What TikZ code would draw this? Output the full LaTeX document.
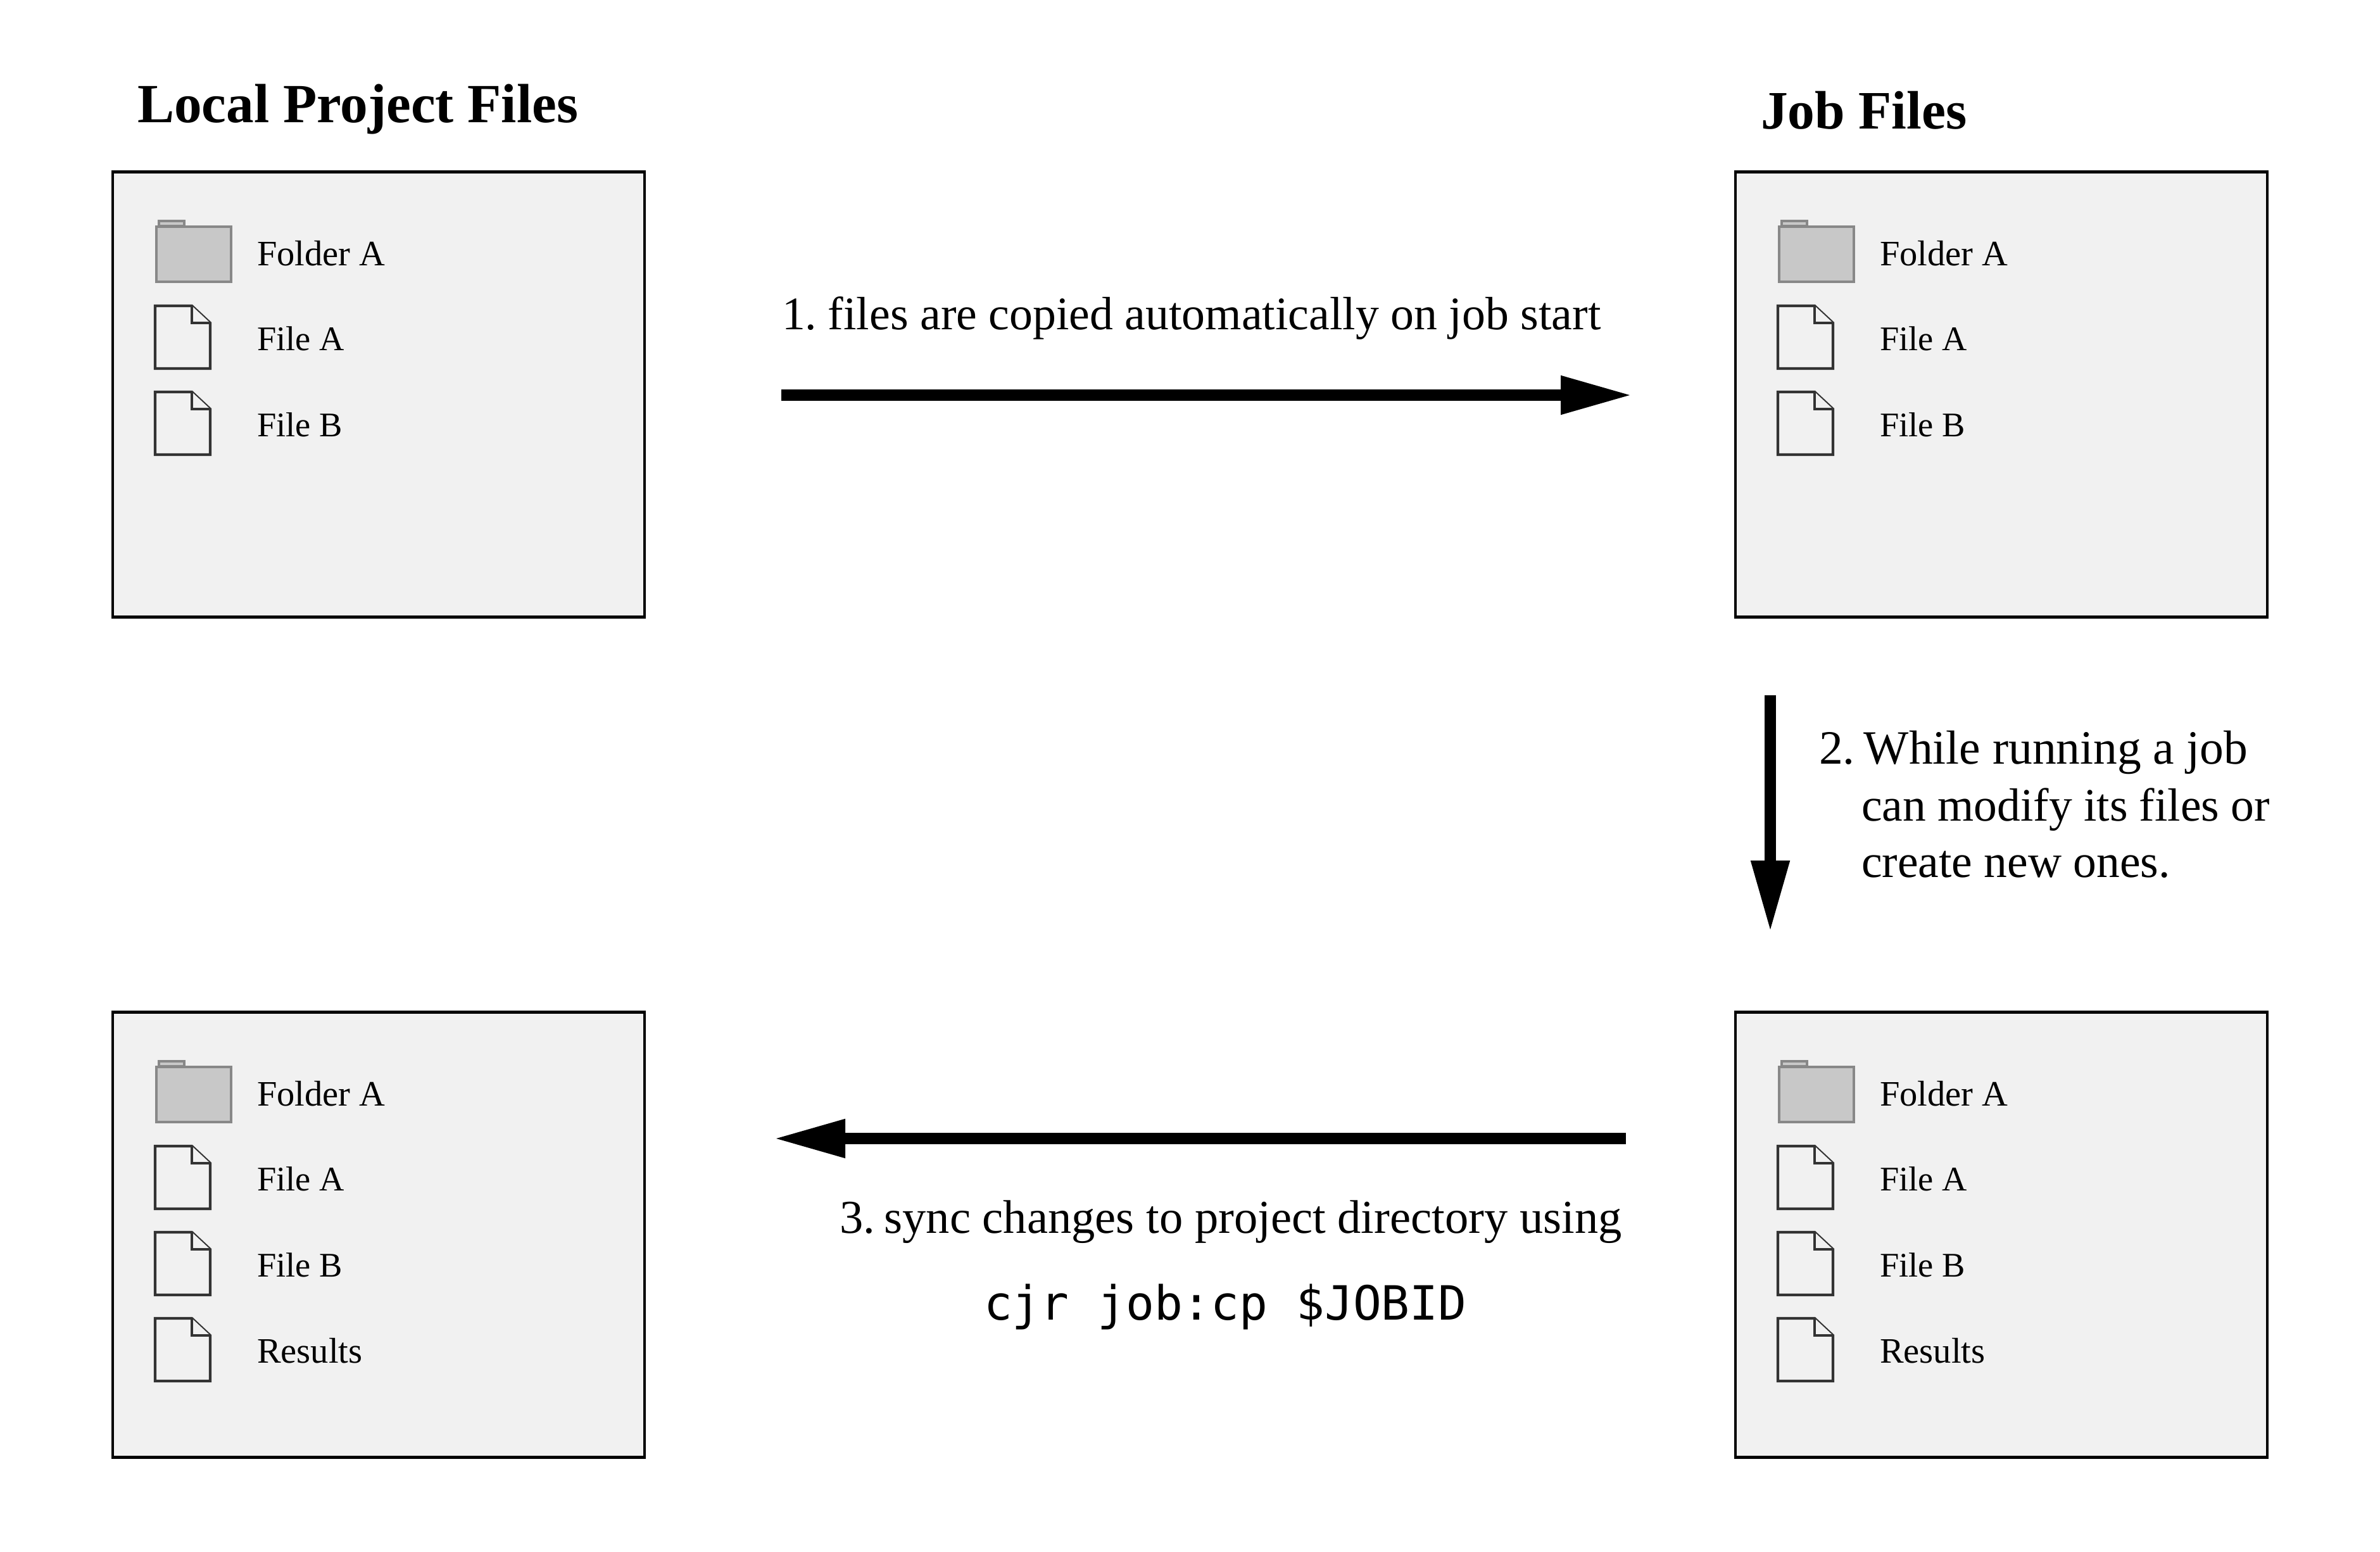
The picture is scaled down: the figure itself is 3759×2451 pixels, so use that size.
\documentclass[tikz,border=0pt]{standalone}
\usepackage{fontspec}
\setmainfont{Liberation Serif}
\newfontfamily\codefont{DejaVu Sans Mono}
\usetikzlibrary{arrows.meta}
\definecolor{panelfill}{HTML}{F1F1F1}
\definecolor{folderfill}{HTML}{C8C8C8}
\definecolor{folderline}{HTML}{888888}
\definecolor{fileline}{HTML}{333333}
\tikzset{
  panel/.style={draw=black,fill=panelfill,line width=0.85pt,minimum width=168pt,minimum height=140.6pt,inner sep=0pt,outer sep=0pt},
  itemlabel/.style={anchor=base west,inner sep=0pt,font=\fontsize{11.3}{13}\selectfont},
  filelabel/.style={anchor=base west,inner sep=0pt,font=\fontsize{10.9}{13}\selectfont},
  heading/.style={anchor=base west,inner sep=0pt,font=\fontsize{17.45}{20}\selectfont\bfseries},
  caption/.style={anchor=base west,inner sep=0pt,font=\fontsize{14.7}{18}\selectfont},
  flow/.style={line width=3.5pt,-{Triangle[length=22.6pt,width=11.4pt]}},
  folderline/.style={draw=folderline,fill=folderfill,line width=0.75pt},
  fileline/.style={draw=fileline,fill=panelfill,line width=0.85pt,line join=miter},
  folder/.pic={
    \path[folderline] (251,349) rectangle (291,357);
    \path[folderline] (247,358) rectangle (365,445);
  },
  doc/.pic={
    \path[fileline] (245,483) -- (303,483) -- (332,510) -- (332,582) -- (245,582) -- cycle;
    \path[fileline] (303,483) -- (303,510) -- (332,510);
  }
}
\newcommand{\filepanel}[4]{% prefix, xshift, yshift, extra content
  \begin{scope}[shift={(#2,#3)}]
    \node[panel] (#1box) at (598,623) {};
    \pic (#1folder) at (0,0) {folder};
    \node[itemlabel] (#1lf) at (405,419) {Folder A};
    \pic (#1fa) at (0,0) {doc};
    \node[filelabel] (#1la) at (405,553) {File A};
    \pic (#1fb) at (0,136) {doc};
    \node[filelabel] (#1lb) at (405,689) {File B};
    #4
  \end{scope}
}
\begin{document}
\begin{tikzpicture}[x=0.2pt,y=-0.2pt]
\useasboundingbox (0,0) rectangle (3759,2451);
\filepanel{tl}{0}{0}{}
\filepanel{tr}{2563}{0}{}
\filepanel{bl}{0}{1327}{\pic (blfr) at (0,272) {doc}; \node[itemlabel] (bllr) at (405,825) {Results};}
\filepanel{br}{2563}{1327}{\pic (brfr) at (0,272) {doc}; \node[itemlabel] (brlr) at (405,825) {Results};}
\node[heading] (titleL) at (216,194) {Local Project Files};
\node[heading,font=\fontsize{17.1}{20}\selectfont\bfseries] (titleR) at (2780,204) {Job Files};
\coordinate (a1s) at (1234,624); \coordinate (a1e) at (2578,624);
\coordinate (a2s) at (2796,1098); \coordinate (a2e) at (2796,1472);
\coordinate (a3s) at (2568,1798); \coordinate (a3e) at (1222,1798);
\draw[flow] (a1s) -- (a1e);
\draw[flow] (a2s) -- (a2e);
\draw[flow] (a3s) -- (a3e);
\node[caption,font=\fontsize{14.75}{18}\selectfont] (t1) at (1234,520) {1.\hspace{-1.4pt} files are copied automatically on job start};
\node[caption,font=\fontsize{15.1}{18}\selectfont] (t2a) at (2872,1206) {2.\hspace{-2.2pt} While running a job};
\node[caption] (t2b) at (2939,1296) {can modify its files or};
\node[caption] (t2c) at (2939,1385) {create new ones.};
\node[caption,font=\fontsize{14.9}{18}\selectfont] (t3) at (1325,1947) {3.\hspace{-2pt} sync changes to project directory using};
\node[anchor=base west,inner sep=0pt,font=\codefont\fontsize{14.9}{18}\selectfont] (t4) at (1553,2084) {cjr job:cp \$JOBID};
\end{tikzpicture}
\end{document}
